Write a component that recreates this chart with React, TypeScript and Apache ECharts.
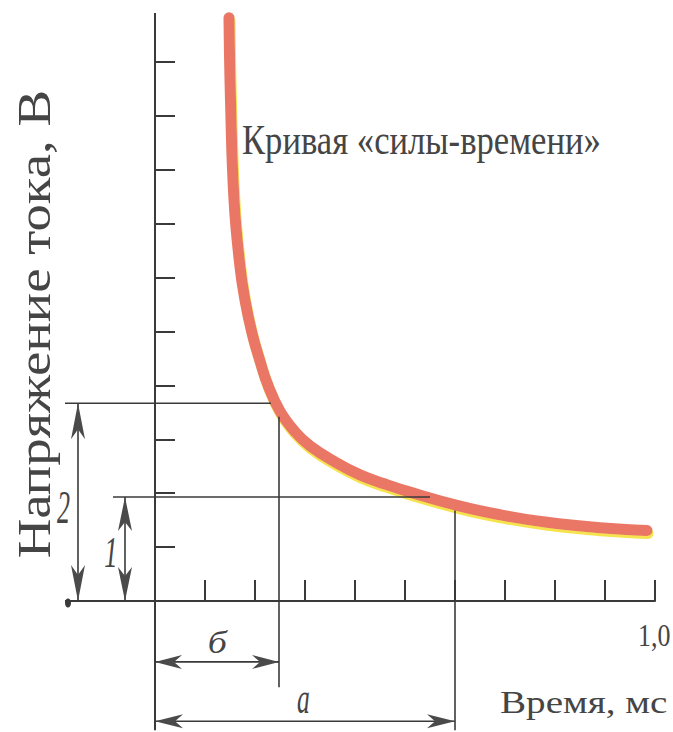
import React, { useEffect, useRef } from 'react';
import * as echarts from 'echarts';

// Strength–duration curve ("сила–время")
const timeMs = [0.148, 0.151, 0.158, 0.170, 0.180, 0.194, 0.210, 0.226, 0.250, 0.280, 0.310, 0.360, 0.410, 0.460, 0.510, 0.610, 0.690, 0.784, 0.890, 0.984];
const voltageV = [10.82, 9.29, 7.44, 6.20, 5.58, 4.97, 4.45, 4.00, 3.52, 3.14, 2.88, 2.58, 2.34, 2.17, 2.02, 1.76, 1.60, 1.46, 1.36, 1.31];

// reference levels
const rheobaseV = 1.93;        // line "1"
const doubleRheobaseV = 3.67;  // line "2"
const chronaxieMs = 0.248;     // "б"
const usefulTimeMs = 0.6;      // "а"

const xTickLabel = '1,0';
const curveTitle = 'Кривая «силы-времени»';
const yTitle = 'Напряжение тока, В';
const xTitle = 'Время, мс';
const labelA = 'а';
const labelB = 'б';
const label1 = '1';
const label2 = '2';

const INK = '#3a3a3a';
const TEXT = '#454545';
const SERIF = '"Liberation Serif", "Times New Roman", serif';

export default function App() {
  const ref = useRef<HTMLDivElement>(null);

  useEffect(() => {
    document.body.style.margin = '0';
    const chart = echarts.init(ref.current!, undefined, { renderer: 'svg' });
    chart.setOption({
      animation: false,
      backgroundColor: '#ffffff',
      grid: { left: 155, top: 62, width: 500, height: 539 },
      xAxis: {
        type: 'value', min: 0, max: 1, interval: 0.1,
        axisLine: { show: true, lineStyle: { color: INK, width: 2 } },
        axisTick: { show: true, inside: true, length: 21, lineStyle: { color: INK, width: 2 } },
        axisLabel: { show: false },
        splitLine: { show: false },
      },
      yAxis: {
        type: 'value', min: 0, max: 10, interval: 1,
        axisLine: { show: true, lineStyle: { color: INK, width: 2 } },
        axisTick: { show: true, inside: true, length: 20, lineStyle: { color: INK, width: 2 } },
        axisLabel: { show: false },
        splitLine: { show: false },
      },
      series: [
        {
          type: 'line',
          data: timeMs.map((t, i) => [t, voltageV[i]]),
          smooth: 0.45,
          showSymbol: false,
          clip: false,
          z: 1,
          lineStyle: {
            color: '#EA7766', width: 11, cap: 'round', join: 'round',
            shadowColor: 'rgba(244,226,70,0.95)', shadowBlur: 1, shadowOffsetX: 1, shadowOffsetY: 3,
          },
        },
      ],
    });

    const px = (t: number, v: number) => chart.convertToPixel({ gridIndex: 0 }, [t, v]) as number[];
    const ctx = document.createElement('canvas').getContext('2d')!;
    const measure = (text: string, font: string) => { ctx.font = font; return ctx.measureText(text); };

    const textEl = (text: string, font: string, X: number, Y: number, sx: number, sy: number, rotation = 0) => ({
      type: 'text', x: X, y: Y, scaleX: sx, scaleY: sy, rotation, silent: true, z: 10,
      style: { text, font, fill: TEXT, align: 'left', verticalAlign: 'middle' },
    });
    const fitInk = (text: string, font: string, x0: number, x1: number, y0: number, y1: number) => {
      const m = measure(text, font);
      const yb = (m.fontBoundingBoxAscent - m.fontBoundingBoxDescent) / 2;
      const sx = (x1 - x0) / (m.actualBoundingBoxLeft + m.actualBoundingBoxRight);
      const sy = (y1 - y0) / (m.actualBoundingBoxAscent + m.actualBoundingBoxDescent);
      const baseline = y0 + sy * m.actualBoundingBoxAscent;
      return textEl(text, font, x0 + sx * m.actualBoundingBoxLeft, baseline - sy * yb, sx, sy);
    };
    const fitCap = (text: string, font: string, capRef: string, x0: number, x1: number, capTop: number, baseline: number) => {
      const m = measure(text, font);
      const capH = measure(capRef, font).actualBoundingBoxAscent;
      const yb = (m.fontBoundingBoxAscent - m.fontBoundingBoxDescent) / 2;
      const sx = (x1 - x0) / (m.actualBoundingBoxLeft + m.actualBoundingBoxRight);
      const sy = (baseline - capTop) / capH;
      return textEl(text, font, x0 + sx * m.actualBoundingBoxLeft, baseline - sy * yb, sx, sy);
    };
    const fitVertical = (text: string, font: string, capRef: string, yBottom: number, yTop: number, capLeft: number, baseX: number) => {
      const m = measure(text, font);
      const capH = measure(capRef, font).actualBoundingBoxAscent;
      const yb = (m.fontBoundingBoxAscent - m.fontBoundingBoxDescent) / 2;
      const sx = (yBottom - yTop) / (m.actualBoundingBoxLeft + m.actualBoundingBoxRight);
      const sy = (baseX - capLeft) / capH;
      return textEl(text, font, baseX - sy * yb, yBottom - sx * m.actualBoundingBoxLeft, sx, sy, Math.PI / 2);
    };

    const line = (a: number[], b: number[], w = 1.6) => ({
      type: 'line', silent: true, z: 5,
      shape: { x1: a[0], y1: a[1], x2: b[0], y2: b[1] },
      style: { stroke: INK, lineWidth: w },
    });
    const head = (tip: number[], from: number[], L: number, W: number, N: number) => {
      const dx = tip[0] - from[0], dy = tip[1] - from[1];
      const len = Math.hypot(dx, dy);
      const ux = dx / len, uy = dy / len, nx = -uy, ny = ux;
      return {
        type: 'polygon', silent: true, z: 6,
        shape: {
          points: [
            [tip[0], tip[1]],
            [tip[0] - ux * L + nx * W, tip[1] - uy * L + ny * W],
            [tip[0] - ux * N, tip[1] - uy * N],
            [tip[0] - ux * L - nx * W, tip[1] - uy * L - ny * W],
          ],
        },
        style: { fill: '#4a4a4a' },
      };
    };
    const dbl = (a: number[], b: number[], L: number, W: number, N: number) => [
      line(a, b, 1.6), head(a, b, L, W, N), head(b, a, L, W, N),
    ];

    const els: any[] = [];
    // axis extensions
    els.push(line(px(0, 10.91), px(0, -2.4), 2));
    els.push(line(px(-0.18, 0), px(1, 0), 2));
    const blob = px(-0.174, 0);
    els.push({ type: 'ellipse', silent: true, z: 6, shape: { cx: blob[0], cy: blob[1] + 2, rx: 3, ry: 4.5 }, style: { fill: INK } });
    // reference lines
    els.push(line(px(-0.18, doubleRheobaseV), px(0.232, doubleRheobaseV)));
    els.push(line(px(-0.084, rheobaseV), px(0.55, rheobaseV)));
    els.push(line(px(chronaxieMs, 3.42), px(chronaxieMs, -1.6)));
    els.push(line(px(usefulTimeMs, 1.68), px(usefulTimeMs, -2.4)));
    // dimension arrows
    els.push(...dbl(px(-0.154, doubleRheobaseV), px(-0.154, 0), 36, 7, 26));
    els.push(...dbl(px(-0.06, rheobaseV), px(-0.06, 0), 34, 7, 25));
    els.push(...dbl(px(0, -1.13), px(chronaxieMs, -1.13), 27, 7, 19));
    els.push(...dbl(px(0, -2.23), px(usefulTimeMs, -2.23), 28, 7, 20));

    // texts
    const F = (s: number, it = false) => `${it ? 'italic ' : ''}${s}px ${SERIF}`;
    els.push(fitInk(curveTitle, F(34), 242, 600, 127, 163));
    els.push(fitCap(xTitle, F(30), 'В', 500, 667, 693, 713));
    els.push(fitCap(xTickLabel, F(27), '1', 640, 670, 625, 646));
    els.push(fitVertical(yTitle, F(40), 'Н', 557, 92, 20, 50));
    els.push(fitInk(labelB, F(32, true), 209, 228, 631, 654));
    els.push(fitInk(labelA, F(32, true), 297, 309, 692, 713));
    els.push(fitInk(label2, F(32, true), 57, 70, 493, 523));
    els.push(fitInk(label1, F(32, true), 105, 115, 538, 567));

    chart.setOption({ graphic: els });
    return () => chart.dispose();
  }, []);

  return <div ref={ref} style={{ width: 673, height: 732 }} />;
}
